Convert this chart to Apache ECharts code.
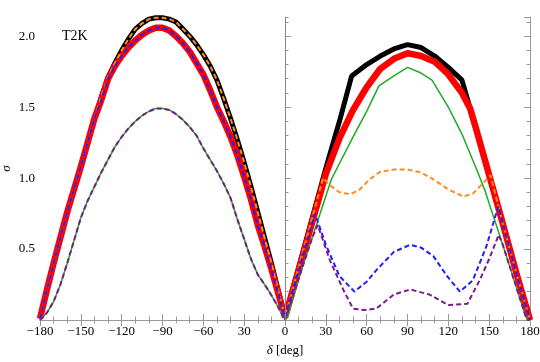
<!DOCTYPE html>
<html>
<head>
<meta charset="utf-8">
<script src="https://cdn.jsdelivr.net/npm/echarts@6/dist/echarts.min.js"></script>
<style>
  html, body { margin: 0; padding: 0; background: #fff; }
  #myChart { width: 540px; height: 362px; }
</style>
</head>
<body>
<div id="myChart"></div>
<script>
// delta grid for the left half (-180..0)
let deltaLeft = [-180, -175, -170, -165, -160, -155, -150, -145, -140, -135, -130, -125, -120, -115, -110, -105, -100, -95, -90,
  -85, -80, -75, -70, -65, -60, -55, -50, -45, -40, -35, -30, -25, -20, -15, -10, -5, 0];
let blackLeft = [0.01, 0.21, 0.40, 0.58, 0.76, 0.92, 1.08, 1.25, 1.42, 1.57, 1.71, 1.81, 1.90, 1.98, 2.05, 2.09, 2.12, 2.13, 2.13,
  2.12, 2.10, 2.05, 2.00, 1.94, 1.87, 1.79, 1.69, 1.56, 1.42, 1.27, 1.11, 0.94, 0.76, 0.58, 0.40, 0.21, 0.02];
let redLeft = [0.01, 0.21, 0.40, 0.58, 0.76, 0.92, 1.08, 1.25, 1.42, 1.55, 1.70, 1.79, 1.86, 1.92, 1.97, 2.01, 2.04, 2.06, 2.06,
  2.04, 2.00, 1.95, 1.89, 1.81, 1.73, 1.62, 1.50, 1.40, 1.29, 1.16, 1.01, 0.85, 0.67, 0.52, 0.36, 0.19, 0.02];
let greenLeft = [0.0, 0.05, 0.13, 0.25, 0.40, 0.56, 0.72, 0.84, 0.94, 1.04, 1.13, 1.22, 1.29, 1.35, 1.40, 1.44, 1.47, 1.49, 1.49,
  1.48, 1.45, 1.41, 1.36, 1.30, 1.21, 1.13, 1.05, 0.96, 0.86, 0.71, 0.57, 0.43, 0.32, 0.25, 0.175, 0.09, 0.0];

// right half (0..180), each curve with its own delta points
let blackRightDelta = [0, 10, 20, 30, 40, 49, 60, 70, 80, 90, 100, 110, 120, 130, 140, 150, 160, 170, 180];
let blackRight = [0.02, 0.37, 0.72, 1.07, 1.40, 1.72, 1.80, 1.86, 1.91, 1.94, 1.92, 1.86, 1.78, 1.69, 1.36, 1.02, 0.68, 0.33, 0.0];
let redRightDelta = [0, 10, 20, 30, 40, 50, 60, 70, 80, 90, 100, 110, 120, 130, 136, 140, 150, 160, 170, 180];
let redRight = [0.02, 0.35, 0.69, 1.03, 1.28, 1.48, 1.64, 1.77, 1.84, 1.88, 1.86, 1.82, 1.73, 1.60, 1.49, 1.36, 1.02, 0.68, 0.33, 0.0];
let greenRightDelta = [0, 2, 10, 20, 34, 50, 60, 69, 80, 90, 100, 108, 120, 130, 140, 147, 150, 160, 170, 177, 180];
let greenRight = [0.0, 0.02, 0.29, 0.58, 0.99, 1.29, 1.47, 1.65, 1.72, 1.78, 1.74, 1.69, 1.50, 1.31, 1.08, 0.91, 0.82, 0.53, 0.23, 0.02, 0.0];
let orangeRightDelta = [0, 10, 20, 28, 33, 40, 48, 55, 62, 70, 80, 90, 100, 110, 120, 131, 138, 145, 151, 160, 170, 180];
let orangeRight = [0.02, 0.37, 0.72, 1.00, 0.95, 0.90, 0.885, 0.92, 0.99, 1.045, 1.06, 1.06, 1.04, 0.985, 0.92, 0.87, 0.89, 0.96, 1.02, 0.68, 0.33, 0.0];
let blueRightDelta = [0, 10, 22, 30, 40, 51, 60, 67, 80, 92, 100, 109, 119, 128.5, 138, 148, 156.7, 160, 170, 180];
let blueRight = [0.02, 0.35, 0.75, 0.53, 0.31, 0.20, 0.27, 0.35, 0.48, 0.53, 0.51, 0.45, 0.31, 0.20, 0.28, 0.52, 0.80, 0.68, 0.33, 0.0];
let purpleRightDelta = [0, 10, 20, 24, 33, 43, 50, 58, 67, 80, 92, 106, 120, 134, 143, 150, 157, 160, 170, 177, 180];
let purpleRight = [0.0, 0.29, 0.58, 0.67, 0.42, 0.21, 0.08, 0.07, 0.08, 0.18, 0.215, 0.18, 0.105, 0.115, 0.28, 0.43, 0.60, 0.53, 0.23, 0.02, 0.0];

let xTickValues = [-180, -150, -120, -90, -60, -30, 0, 30, 60, 90, 120, 150, 180];
let xTickLabels = ['\u2212180', '\u2212150', '\u2212120', '\u221290', '\u221260', '30', '0', '30', '60', '90', '120', '150', '180'];
let yTickValues = [0.5, 1.0, 1.5, 2.0];
let yTickLabels = ['0.5', '1.0', '1.5', '2.0'];

function pairs(xs, ys) {
  return xs.map(function (x, i) { return [x, ys[i]]; });
}
function findLabel(values, labels, v) {
  for (let i = 0; i < values.length; i++) {
    if (Math.abs(values[i] - v) < 1e-6) return labels[i];
  }
  return '';
}

let font = 'Liberation Serif';
let frame = '#999';

function tickAxis(pos, extra) {
  let ax = {
    type: 'value',
    position: pos,
    axisLine: { show: true, lineStyle: { color: frame, width: 1 } },
    axisTick: { show: true, inside: true, length: 6, lineStyle: { color: frame } },
    axisLabel: { show: false },
    splitLine: { show: false }
  };
  return Object.assign(ax, extra);
}

let chart = echarts.init(document.getElementById('myChart'));

let option = {
  animation: false,
  backgroundColor: '#fff',
  grid: { left: 40, right: 10, top: 17, bottom: 42, outerBoundsMode: 'none', containLabel: false },
  xAxis: [
    tickAxis('bottom', {
      min: -180, max: 180, interval: 30,
      minorTick: { show: true, splitNumber: 3, length: 3.5, lineStyle: { color: frame } },
      axisLabel: {
        show: true, color: '#000', fontFamily: font, fontSize: 13, margin: 5,
        formatter: function (v) { return findLabel(xTickValues, xTickLabels, v); }
      },
      name: '{i|\u03b4} [deg]',
      nameLocation: 'middle',
      nameGap: 24,
      nameMoveOverlap: false,
      nameTextStyle: {
        color: '#000', fontFamily: font, fontSize: 13,
        rich: { i: { fontStyle: 'italic', fontFamily: font, fontSize: 13, color: '#000' } }
      }
    }),
    tickAxis('top', {
      min: -180, max: 180, interval: 30,
      minorTick: { show: true, splitNumber: 3, length: 3.5, lineStyle: { color: frame } }
    })
  ],
  yAxis: [
    tickAxis('left', {
      min: 0, max: 2.135, interval: 0.5,
      axisLabel: {
        show: true, color: '#000', fontFamily: font, fontSize: 13, margin: 5,
        showMaxLabel: false,
        formatter: function (v) { return findLabel(yTickValues, yTickLabels, v); }
      },
      name: '\u03c3',
      nameLocation: 'middle',
      nameGap: 27,
      nameMoveOverlap: false,
      nameTextStyle: { color: '#000', fontFamily: font, fontSize: 13, fontStyle: 'italic' }
    }),
    // minor ticks every 0.1 on their own axis so the top stays clean
    tickAxis('left', { min: 0, max: 2.135, interval: 0.1, axisLine: { show: false }, axisTick: { show: true, inside: true, length: 3.5, lineStyle: { color: frame } } }),
    tickAxis('right', { min: 0, max: 2.135, interval: 0.5 }),
    tickAxis('right', { min: 0, max: 2.135, interval: 0.1, axisLine: { show: false }, axisTick: { show: true, inside: true, length: 3.5, lineStyle: { color: frame } } })
  ],
  graphic: [
    {
      type: 'text', left: 62, top: 29,
      style: { text: 'T2K', fill: '#000', font: '14px "Liberation Serif"' }
    }
  ],
  series: [
    {
      name: 'black', type: 'line', showSymbol: false, symbol: 'none',
      data: pairs(deltaLeft, blackLeft).concat(pairs(blackRightDelta, blackRight)),
      lineStyle: { color: '#000', width: 5 },
      markLine: {
        silent: true, symbol: ['none', 'none'], label: { show: false },
        lineStyle: { color: '#888', width: 1, type: 'solid' },
        data: [{ xAxis: 0 }]
      }
    },
    {
      name: 'red', type: 'line', symbol: 'none',
      data: pairs(deltaLeft, redLeft).concat(pairs(redRightDelta, redRight)),
      lineStyle: { color: '#ff0000', width: 6.5 }
    },
    {
      name: 'green', type: 'line', symbol: 'none',
      data: pairs(deltaLeft, greenLeft).concat(pairs(greenRightDelta, greenRight)),
      lineStyle: { color: '#1faa1f', width: 1.5 }
    },
    {
      name: 'orange', type: 'line', symbol: 'none',
      data: pairs(deltaLeft, blackLeft).concat(pairs(orangeRightDelta, orangeRight)),
      lineStyle: { color: '#ff8c1a', width: 2, type: [5, 3] }
    },
    {
      name: 'blue', type: 'line', symbol: 'none',
      data: pairs(deltaLeft, redLeft).concat(pairs(blueRightDelta, blueRight)),
      lineStyle: { color: '#1e1eff', width: 2, type: [5, 3] }
    },
    {
      name: 'purple', type: 'line', symbol: 'none',
      data: pairs(deltaLeft, greenLeft).concat(pairs(purpleRightDelta, purpleRight)),
      lineStyle: { color: '#7a1a8c', width: 2, type: [5, 3] }
    }
  ]
};

chart.setOption(option);
window.onresize = function () {
  chart.resize();
};
</script>
</body>
</html>
